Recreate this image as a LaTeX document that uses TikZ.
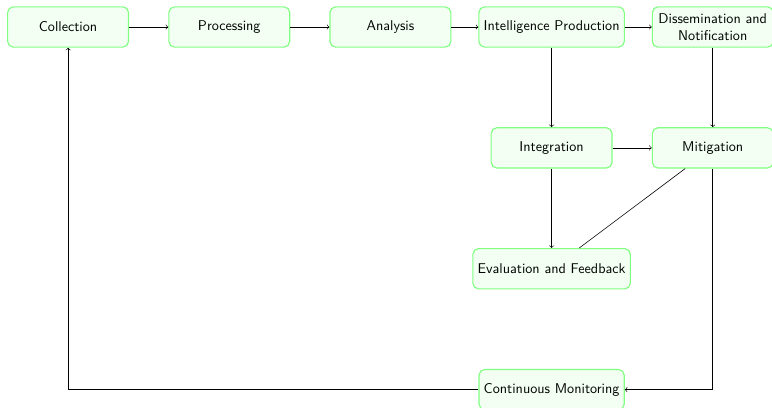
\documentclass[tikz,border=0pt]{standalone}
\usetikzlibrary{positioning}
\tikzset{
  stage/.style={draw=green!50, thick, fill=green!5, rounded corners, minimum width=3cm, minimum height=1cm, align=center, font=\sffamily},
  flow/.style={->}
}
\begin{document}
\begin{tikzpicture}[node distance=3cm and 4cm, on grid]
% \clip (-1.69,-9.45) rectangle (17.47,0.67);
\useasboundingbox (-1.69,-9.45) rectangle (17.47,0.67);

% Top row of stages
\node [stage] (collection) at (0,0) {Collection};
\node [stage, right=of collection] (processing) {Processing};
\node [stage, right=of processing] (analysis) {Analysis};
\node [stage, right=of analysis] (production) {Intelligence Production};
\node [stage, right=of production] (dissemination) {Dissemination and\\Notification};

% Middle rows
\node [stage, below=of production] (integration) {Integration};
\node [stage, below=of dissemination] (mitigation) {Mitigation};
\node [stage, below=of integration] (evaluation) {Evaluation and Feedback};
\node [stage, below=of evaluation] (monitoring) {Continuous Monitoring};

% Drawing connectors of the top row
\draw [flow] (collection) -- (processing);
\draw [flow] (processing) -- (analysis);
\draw [flow] (analysis) -- (production);
\draw [flow] (production) -- (dissemination);

% Drawing connectors downwards
\draw [flow] (production) -- (integration);
\draw [flow] (dissemination) -- (mitigation);
\draw [flow] (integration) -- (mitigation);
\draw [flow] (integration) -- (evaluation);
\draw (mitigation) -- (evaluation);

% Drawing the loop back
\draw [flow] (mitigation) |- (monitoring);
\draw [flow] (monitoring) -| (collection);
\end{tikzpicture}
\end{document}
